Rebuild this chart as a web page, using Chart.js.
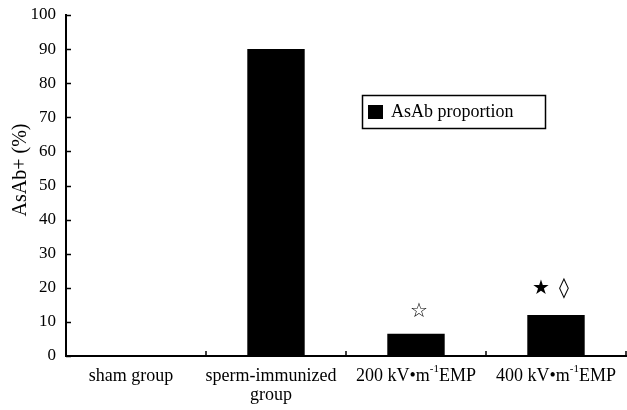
<!DOCTYPE html>
<html>
<head>
<meta charset="utf-8">
<script src="https://cdn.jsdelivr.net/npm/chart.js@4/dist/chart.umd.min.js"></script>
<style>
  html, body { margin: 0; padding: 0; background: #fff; }
  #wrap { width: 627px; height: 410px; }
</style>
</head>
<body>
<div id="wrap"><canvas id="asabChart" width="627" height="410"></canvas></div>
<script>
// categories: [main text, superscript, text after superscript, second line]
const groups = [
    ['sham group', '', '', ''],
    ['sperm-immunized', '', '', 'group'],
    ['200 kV\u2022m', '-1', 'EMP', ''],
    ['400 kV\u2022m', '-1', 'EMP', '']
];
const asabProportion = [0, 90, 6.5, 12];
const marks = [[], [], ['\u2606'], ['\u2605', '\u25CA']];
const yTicks = [0, 10, 20, 30, 40, 50, 60, 70, 80, 90, 100];
const seriesName = 'AsAb proportion';
const yTitle = 'AsAb+ (%)';

const serif = '"Liberation Serif", "Times New Roman", serif';

// inside ticks, category labels with superscripts, significance marks, legend box, y title
const decorations = {
    id: 'decorations',
    afterDraw(chart) {
        const ctx = chart.ctx;
        const x = chart.scales.x, y = chart.scales.y;
        const area = chart.chartArea;
        ctx.save();
        ctx.strokeStyle = '#000';
        ctx.lineWidth = 1.5;

        // y ticks pointing into the plot
        yTicks.forEach(v => {
            const py = Math.round(y.getPixelForValue(v)) + 0.5;
            ctx.beginPath();
            ctx.moveTo(area.left, py);
            ctx.lineTo(area.left + 5, py);
            ctx.stroke();
        });

        // x ticks at category boundaries
        const step = x.getPixelForValue(1) - x.getPixelForValue(0);
        for (let i = 0; i < groups.length; i++) {
            const px = Math.round(x.getPixelForValue(i) + step / 2);
            ctx.beginPath();
            ctx.moveTo(px, area.bottom);
            ctx.lineTo(px, area.bottom - 5);
            ctx.stroke();
        }

        // category labels
        ctx.fillStyle = '#000';
        ctx.textBaseline = 'alphabetic';
        groups.forEach((g, i) => {
            const cx = x.getPixelForValue(i) - (i < 2 ? 5 : 0);
            const big = '18px ' + serif, small = '11px ' + serif;
            ctx.font = big;
            const w1 = ctx.measureText(g[0]).width;
            const w3 = ctx.measureText(g[2]).width;
            ctx.font = small;
            const w2 = ctx.measureText(g[1]).width;
            let sx = Math.min(cx - (w1 + w2 + w3) / 2, chart.width - 2 - (w1 + w2 + w3));
            const base = area.bottom + 25;
            ctx.textAlign = 'left';
            ctx.font = big;
            ctx.fillText(g[0], sx, base);
            sx += w1;
            ctx.font = small;
            ctx.fillText(g[1], sx, base - 9);
            sx += w2;
            ctx.font = big;
            ctx.fillText(g[2], sx, base);
            if (g[3]) {
                ctx.textAlign = 'center';
                ctx.fillText(g[3], cx, base + 19);
            }
        });

        // significance marks above bars
        ctx.font = '20px "DejaVu Sans", sans-serif';
        ctx.textAlign = 'center';
        ctx.textBaseline = 'middle';
        marks.forEach((m, i) => {
            if (!m.length) return;
            const cx = x.getPixelForValue(i);
            const top = y.getPixelForValue(asabProportion[i]);
            if (m.length === 1) {
                ctx.fillText(m[0], cx + 3, top - 22);
            } else {
                ctx.fillText(m[0], cx - 15, top - 26);
                ctx.fillText(m[1], cx + 8, top - 26);
            }
        });

        // legend box
        const lx = 362, ly = 95, lw = 183, lh = 33;
        ctx.lineWidth = 1.5;
        ctx.strokeRect(lx + 0.5, ly + 0.5, lw, lh);
        ctx.fillRect(lx + 6, ly + 10, 15, 14);
        ctx.font = '18px ' + serif;
        ctx.textAlign = 'left';
        ctx.textBaseline = 'middle';
        ctx.fillText(seriesName, lx + 29, ly + lh / 2 + 1);

        // y axis title
        ctx.translate(21, 170);
        ctx.rotate(-Math.PI / 2);
        ctx.font = '20px ' + serif;
        ctx.textAlign = 'center';
        ctx.fillText(yTitle, 0, 0);
        ctx.restore();
    }
};

new Chart(document.getElementById('asabChart'), {
    type: 'bar',
    data: {
        labels: groups.map(g => g[0] + g[1] + g[2] + ' ' + g[3]),
        datasets: [{
            label: seriesName,
            data: asabProportion,
            backgroundColor: '#000',
            borderWidth: 0,
            barPercentage: 0.41,
            categoryPercentage: 1
        }]
    },
    options: {
        responsive: false,
        animation: false,
        layout: { padding: { left: 14, right: 1, top: 15, bottom: 0 } },
        plugins: {
            legend: { display: false },
            tooltip: { enabled: false }
        },
        scales: {
            x: {
                offset: true,
                grid: { display: false, drawTicks: false },
                border: { display: true, color: '#000', width: 2 },
                ticks: { display: false },
                afterFit(scale) { scale.height = 54; }
            },
            y: {
                min: 0,
                max: 100,
                afterBuildTicks(scale) { scale.ticks = yTicks.map(v => ({ value: v })); },
                grid: { display: false, drawTicks: false },
                border: { display: true, color: '#000', width: 2 },
                ticks: { color: '#000', padding: 10, font: { family: serif, size: 17 } },
                afterFit(scale) {
                    scale.width = 52;
                    scale.paddingTop = 0;
                    scale.paddingBottom = 0;
                }
            }
        }
    },
    plugins: [decorations]
});
</script>
</body>
</html>
